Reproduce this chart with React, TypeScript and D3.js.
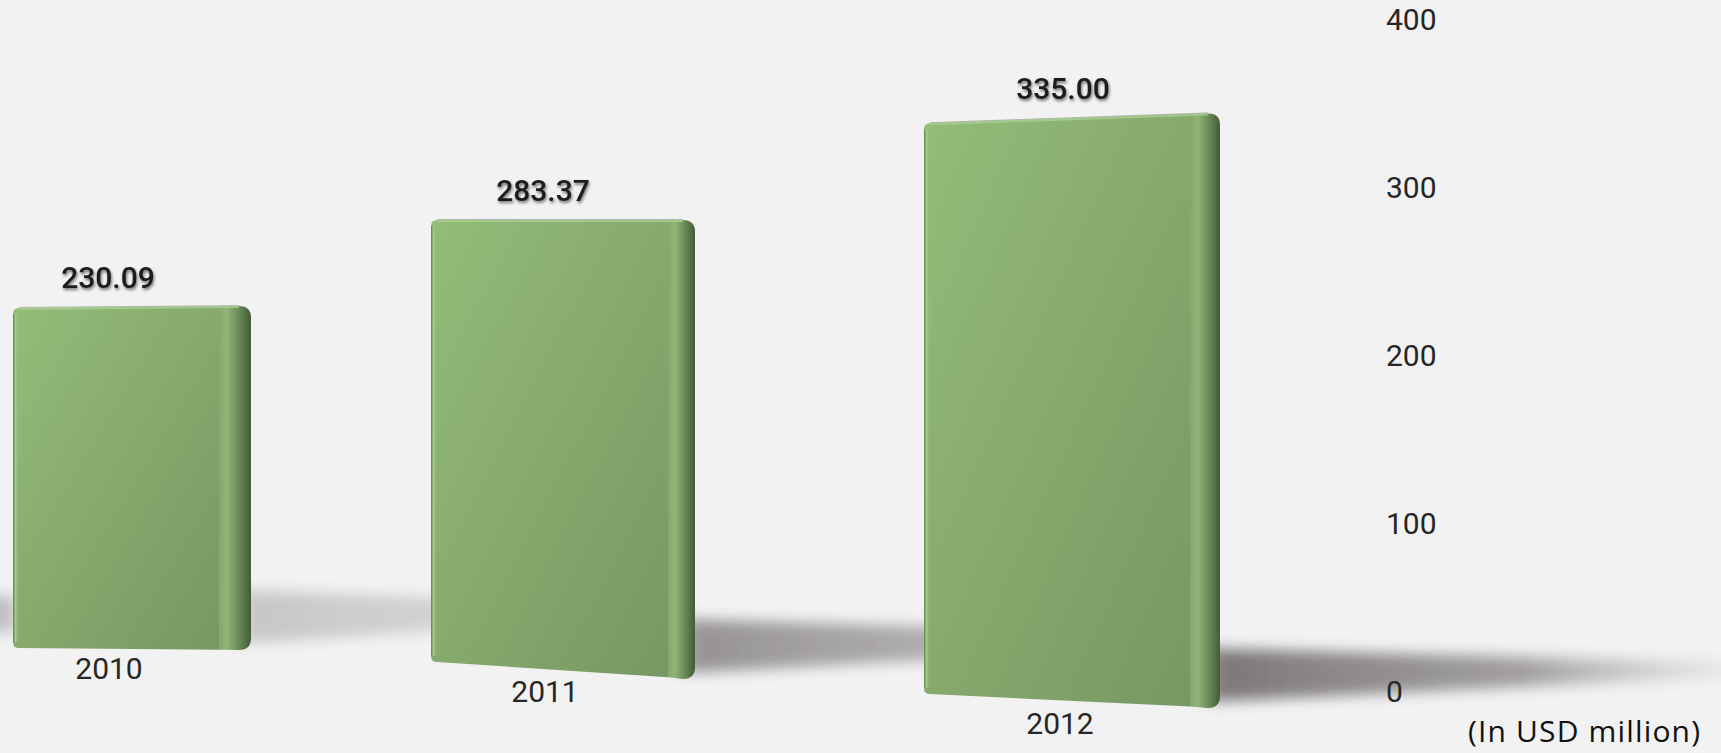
import React from "react";
import * as d3 from "d3";

// ---------- data ----------
const years: string[] = ["2010", "2011", "2012"];
const values: number[] = [230.09, 283.37, 335.0];
const tickValues: number[] = [0, 100, 200, 300, 400];
const unitLabel = "(In USD million)";

// ---------- layout (perspective frame of each bar) ----------
const W = 1721;
const H = 753;
const barLeftX = [13, 431, 924];
const barRightX = [251, 695, 1220];
const baseLeftY = [648, 662, 694];
const baseRightY = [650, 679, 708];
const unitLeft = [1.478, 1.56, 1.704]; // px per unit at the left edge
const unitRight = [1.495, 1.62, 1.776]; // px per unit at the right edge
const bevelW = [32, 27, 30];
const valueLabelX = [108, 543, 1063];
const catLabelX = [109, 545, 1060];
const catLabelY = [679, 702, 734];
const shadowLen = [420, 520, 560];
const shadowOpacity = [0.32, 0.7, 0.9];
const axisX = 1386;

const App: React.FC = () => {
  const yAxis = d3.scaleLinear().domain([0, 400]).range([691, 19]);

  const bars = values.map((v, i) => {
    const sL = d3.scaleLinear().domain([0, 100]).range([baseLeftY[i], baseLeftY[i] - 100 * unitLeft[i]]);
    const sR = d3.scaleLinear().domain([0, 100]).range([baseRightY[i], baseRightY[i] - 100 * unitRight[i]]);
    const xL = barLeftX[i];
    const xR = barRightX[i];
    const topL = sL(v);
    const topR = sR(v);
    const botL = sL(0);
    const botR = sR(0);
    const xAt = d3.scaleLinear().domain([xL, xR]);
    const topAt = xAt.copy().range([topL, topR]);
    const botAt = xAt.copy().range([botL, botR]);
    return { i, v, xL, xR, topL, topR, botL, botR, topAt, botAt };
  });

  const r = 6;

  return (
    <div style={{ position: "fixed", left: 0, top: 0, width: W, height: H, background: "#f2f2f2" }}>
      <svg width={W} height={H} viewBox={`0 0 ${W} ${H}`} style={{ display: "block" }}>
        <defs>
          <linearGradient id="front" x1="0" y1="0" x2="1" y2="1">
            <stop offset="0%" stopColor="#93bd78" />
            <stop offset="45%" stopColor="#88ab6e" />
            <stop offset="100%" stopColor="#779862" />
          </linearGradient>
          <linearGradient id="bevel" x1="0" y1="0" x2="1" y2="0">
            <stop offset="0%" stopColor="#85a86c" />
            <stop offset="25%" stopColor="#8fb678" />
            <stop offset="60%" stopColor="#6d8d5a" />
            <stop offset="100%" stopColor="#435b39" />
          </linearGradient>
          <linearGradient id="leftEdge" x1="0" y1="0" x2="1" y2="0">
            <stop offset="0%" stopColor="#5f7d50" />
            <stop offset="40%" stopColor="#a2cc88" />
            <stop offset="100%" stopColor="#8fb875" stopOpacity="0" />
          </linearGradient>
          <linearGradient id="shadowGrad" x1="0" y1="0" x2="1" y2="0">
            <stop offset="0%" stopColor="#6f6a6a" stopOpacity="1" />
            <stop offset="55%" stopColor="#8a8686" stopOpacity="0.85" />
            <stop offset="100%" stopColor="#b0adad" stopOpacity="0" />
          </linearGradient>
          <filter id="blurShadow" x="-20%" y="-100%" width="140%" height="300%">
            <feGaussianBlur stdDeviation="10 7" />
          </filter>
          <filter id="textShadow" x="-20%" y="-50%" width="140%" height="200%">
            <feDropShadow dx="1" dy="2" stdDeviation="1.6" floodColor="#000" floodOpacity="0.55" />
          </filter>
        </defs>

        {/* left-edge shadow entering from off-canvas */}
        <g filter="url(#blurShadow)">
          <rect x={-40} y={596} width={56} height={36} fill="#8a8686" opacity={0.5} />
        </g>

        {/* floor shadows */}
        {bars.map((b) => {
          const L = shadowLen[b.i];
          const x0 = b.xR - 12;
          const x1 = b.xR + L;
          const y0t = b.botR - 60;
          const y0b = b.botR - 6;
          const y1t = b.botR - 44;
          const y1b = b.botR - 34;
          const p = d3.path();
          p.moveTo(x0, y0t);
          p.lineTo(x1, y1t);
          p.lineTo(x1, y1b);
          p.lineTo(x0, y0b);
          p.closePath();
          return (
            <g key={`sh${b.i}`} filter="url(#blurShadow)" opacity={shadowOpacity[b.i]}>
              <path d={p.toString()} fill="url(#shadowGrad)" />
            </g>
          );
        })}

        {/* bars */}
        {bars.map((b) => {
          const bw = bevelW[b.i];
          const xb = b.xR - bw;
          const f = d3.path();
          f.moveTo(b.xL + r, b.topL);
          f.lineTo(xb, b.topAt(xb));
          f.lineTo(xb, b.botAt(xb));
          f.lineTo(b.xL + r, b.botL);
          f.quadraticCurveTo(b.xL, b.botL, b.xL, b.botL - r);
          f.lineTo(b.xL, b.topL + r);
          f.quadraticCurveTo(b.xL, b.topL, b.xL + r, b.topL);
          f.closePath();
          const g = d3.path();
          g.moveTo(xb, b.topAt(xb));
          g.lineTo(b.xR - 2 * r, b.topAt(b.xR - 2 * r));
          g.quadraticCurveTo(b.xR, b.topR, b.xR, b.topR + 2 * r);
          g.lineTo(b.xR, b.botR - 2 * r);
          g.quadraticCurveTo(b.xR, b.botR, b.xR - 2 * r, b.botR);
          g.lineTo(xb, b.botAt(xb));
          g.closePath();
          const t = d3.path();
          t.moveTo(b.xL + r, b.topL + 1);
          t.lineTo(b.xR - 2 * r, b.topAt(b.xR - 2 * r) + 1);
          const tl = d3.path();
          tl.moveTo(b.xL + r, b.topL - 0.5);
          tl.lineTo(b.xR - 2 * r, b.topAt(b.xR - 2 * r) - 0.5);
          return (
            <g key={`bar${b.i}`}>
              <path d={f.toString()} fill="url(#front)" />
              <path d={g.toString()} fill="url(#bevel)" />
              <rect x={b.xL} y={b.topL + r} width={6} height={b.botL - b.topL - 2 * r} fill="url(#leftEdge)" />
              <path d={tl.toString()} stroke="#6b7a62" strokeWidth={1} fill="none" opacity={0.5} />
              <path d={t.toString()} stroke="#a8d08e" strokeWidth={2} fill="none" opacity={0.8} />
            </g>
          );
        })}

        {/* value labels */}
        {bars.map((b) => (
          <text
            key={`v${b.i}`}
            x={valueLabelX[b.i]}
            y={(b.topL + b.topR) / 2 - 19}
            textAnchor="middle"
            fontFamily="Roboto, sans-serif"
            fontWeight={500}
            fontSize={30}
            fill="#1c1c1c"
            filter="url(#textShadow)"
          >
            {d3.format(".2f")(b.v)}
          </text>
        ))}

        {/* category labels */}
        {years.map((y, i) => (
          <text
            key={`c${i}`}
            x={catLabelX[i]}
            y={catLabelY[i]}
            textAnchor="middle"
            fontFamily="Roboto, sans-serif"
            fontSize={30}
            fill="#262626"
          >
            {y}
          </text>
        ))}

        {/* value axis labels */}
        {tickValues.map((t) => (
          <text
            key={`t${t}`}
            x={axisX}
            y={yAxis(t)}
            dy="0.36em"
            textAnchor="start"
            fontFamily="Roboto, sans-serif"
            fontSize={30}
            fill="#262626"
          >
            {t}
          </text>
        ))}

        <text
          x={1468}
          y={742}
          fontFamily="'Open Sans', sans-serif"
          fontSize={30}
          fill="#111"
          textLength={232}
          lengthAdjust="spacing"
        >
          {unitLabel}
        </text>
      </svg>
    </div>
  );
};

export default App;
